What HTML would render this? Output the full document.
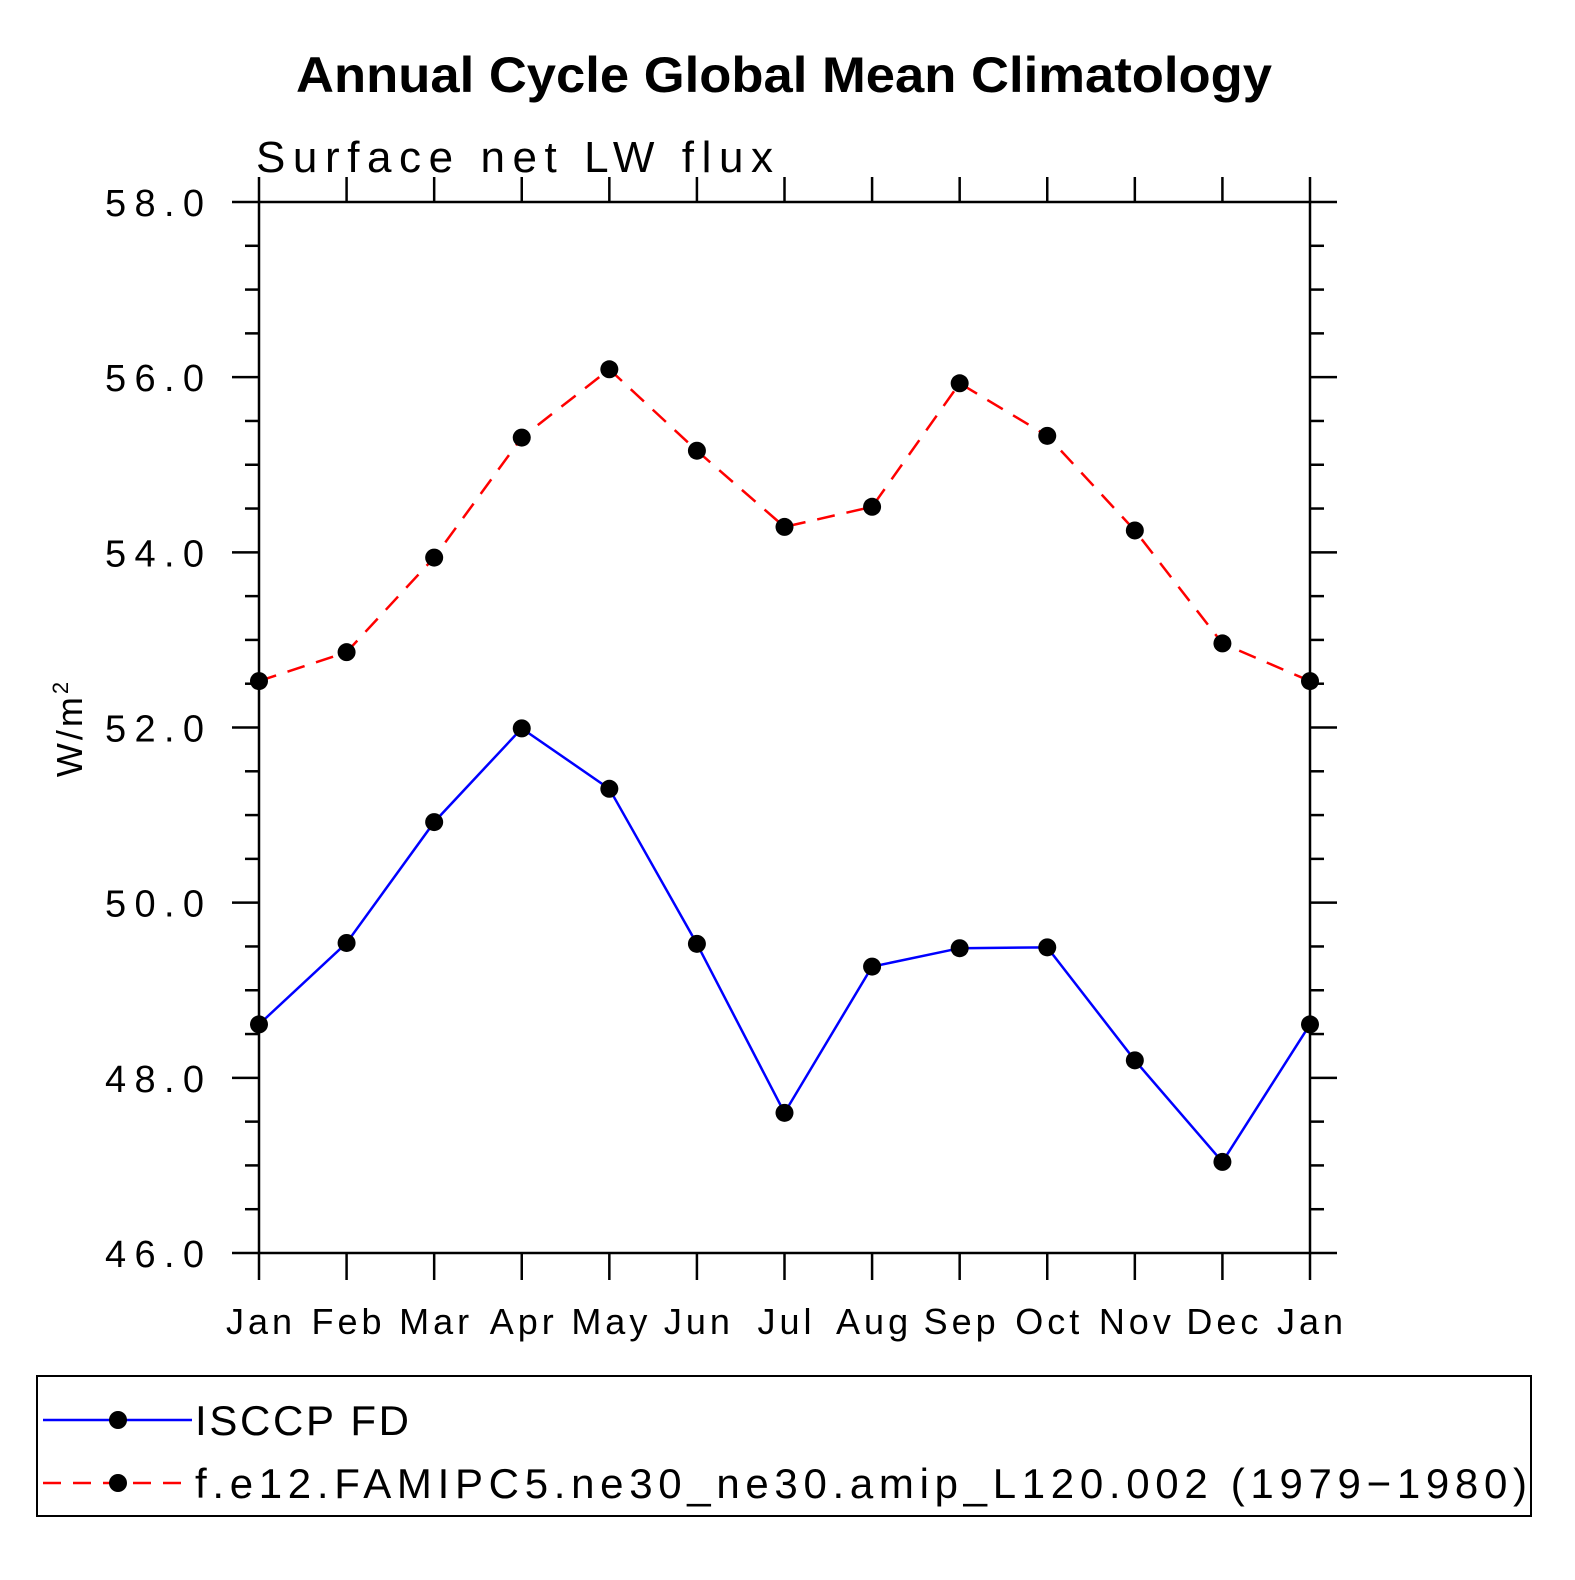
<!DOCTYPE html>
<html><head><meta charset="utf-8"><style>
html,body{margin:0;padding:0;background:#fff}
svg text{font-family:"Liberation Sans",sans-serif}
</style></head><body>
<svg id="chart" width="1575" height="1575" viewBox="0 0 1575 1575" xmlns="http://www.w3.org/2000/svg">
<text x="296" y="92" font-size="50" font-weight="bold" textLength="976" lengthAdjust="spacingAndGlyphs">Annual Cycle Global Mean Climatology</text>
<text x="256" y="172" font-size="44" textLength="517" lengthAdjust="spacing">Surface net LW flux</text>
<text transform="translate(82,728) rotate(-90)" text-anchor="middle" font-size="36" letter-spacing="3">W/m<tspan font-size="22" dy="-14">2</tspan></text>
<g id="axes"></g>
<g id="series"></g>
<g>
<rect x="37" y="1376" width="1494" height="140" fill="none" stroke="#000" stroke-width="2"/>
<line x1="43" y1="1420" x2="192" y2="1420" stroke="#00f" stroke-width="2.5"/>
<circle cx="118" cy="1420" r="9" fill="#000"/>
<text x="195" y="1435" font-size="42" textLength="214" lengthAdjust="spacing">ISCCP FD</text>
<line x1="43" y1="1483" x2="192" y2="1483" stroke="#f00" stroke-width="2.5" stroke-dasharray="18,12"/>
<circle cx="118" cy="1483" r="9" fill="#000"/>
<text x="195" y="1498" font-size="42" textLength="1332" lengthAdjust="spacing">f.e12.FAMIPC5.ne30_ne30.amip_L120.002 (1979−1980)</text>
</g>
</svg>
<script>
const months = ["Jan","Feb","Mar","Apr","May","Jun","Jul","Aug","Sep","Oct","Nov","Dec","Jan"];
const isccp = [48.61,49.54,50.92,51.99,51.30,49.53,47.60,49.27,49.48,49.49,48.20,47.04,48.61];
const model = [52.53,52.86,53.94,55.31,56.09,55.16,54.29,54.52,55.93,55.33,54.25,52.96,52.53];
const yTicks = ["46.0","48.0","50.0","52.0","54.0","56.0","58.0"];
const NS="http://www.w3.org/2000/svg";
const X0=259,X1=1310,Y0=1253,Y1=202,YMIN=46,YMAX=58;
const xs=i=>X0+(X1-X0)*i/(months.length-1);
const ys=v=>Y0-(v-YMIN)/(YMAX-YMIN)*(Y0-Y1);
function mk(t,a,p){const e=document.createElementNS(NS,t);for(const k in a)e.setAttribute(k,a[k]);p.appendChild(e);return e;}
const ax=document.getElementById('axes');
const fr=mk('rect',{x:X0,y:Y1,width:X1-X0,height:Y0-Y1,fill:'none',stroke:'#000','stroke-width':2.5},ax);


for(let v=YMIN;v<=YMAX+1e-9;v+=0.5){
  const y=ys(v),maj=Math.abs(v/2-Math.round(v/2))<1e-9,L=maj?27:14;
  mk('line',{x1:X0-L,y1:y,x2:X0,y2:y,stroke:'#000','stroke-width':2.5},ax);
  mk('line',{x1:X1,y1:y,x2:X1+L,y2:y,stroke:'#000','stroke-width':2.5},ax);
}
yTicks.forEach(s=>{
  const t=mk('text',{x:105,y:ys(parseFloat(s))+14,'font-size':38,textLength:99,lengthAdjust:'spacing'},ax);
  t.textContent=s;
  
  
});
months.forEach((m,i)=>{
  const x=xs(i);
  mk('line',{x1:x,y1:Y1-25,x2:x,y2:Y1,stroke:'#000','stroke-width':2.5},ax);
  mk('line',{x1:x,y1:Y0,x2:x,y2:Y0+27,stroke:'#000','stroke-width':2.5},ax);
  const t=mk('text',{x:x+2,y:1334,'text-anchor':'middle','font-size':36,'letter-spacing':4},ax);
  t.textContent=m;
  
  
});
const sg=document.getElementById('series');
function draw(vals,color,dash,name){
  const g=mk('g',{},sg);
  
  
  const a={points:vals.map((v,i)=>xs(i)+','+ys(v)).join(' '),fill:'none',stroke:color,'stroke-width':2.5};
  if(dash)a['stroke-dasharray']=dash;
  mk('polyline',a,g);
  vals.forEach((v,i)=>{
    const c=mk('circle',{cx:xs(i),cy:ys(v),r:9,fill:'#000'},g);
    
    
  });
}
draw(isccp,'#00f',null,'isccp-series');
draw(model,'#f00','18,12','model-series');
</script>
</body></html>
